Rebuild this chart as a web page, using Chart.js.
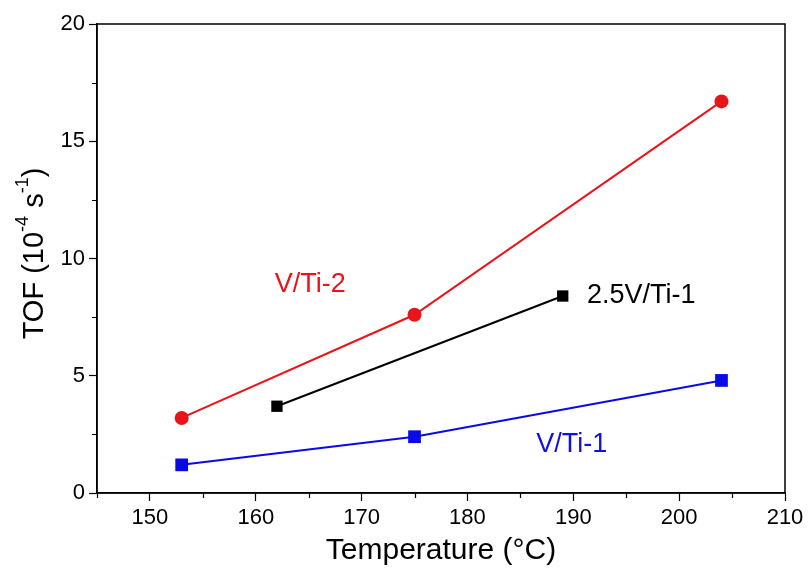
<!DOCTYPE html>
<html>
<head>
<meta charset="utf-8">
<script src="https://cdn.jsdelivr.net/npm/chart.js@4"></script>
<style>
  html, body { margin: 0; padding: 0; background: #ffffff; }
  #wrap { width: 810px; height: 573px; }
</style>
</head>
<body>
<div id="wrap"><canvas id="c" width="810" height="573"></canvas></div>
<script>
// Turnover frequency vs. reaction temperature
const tempVTi2 = [153, 175, 204];
const tofVTi2 = [3.2, 7.6, 16.7];
const temp25VTi1 = [162, 189];
const tof25VTi1 = [3.7, 8.4];
const tempVTi1 = [153, 175, 204];
const tofVTi1 = [1.2, 2.4, 4.8];

const xTicks = [150, 160, 170, 180, 190, 200, 210];
const xMinorTicks = [145, 155, 165, 175, 185, 195, 205];
const yTicks = [0, 5, 10, 15, 20];
const yMinorTicks = [2.5, 7.5, 12.5, 17.5];

// Series names written beside the curves (anchor in data units)
const seriesNames = ['V/Ti-2', '2.5V/Ti-1', 'V/Ti-1'];
const nameAnchorX = [161.8, 191.3, 186.5];
const nameAnchorY = [8.87, 8.40, 2.05];
const nameColors = ['#e8141a', '#000000', '#1010e0'];

const RED = '#e8141a';
const BLUE = '#0a0ae6';
const SANS = '"Liberation Sans", Arial, sans-serif';

const toPts = (xs, ys) => xs.map((x, i) => ({ x: x, y: ys[i] }));

const decor = {
  id: 'decor',
  afterDraw(chart) {
    const ctx = chart.ctx;
    const a = chart.chartArea;
    const xs = chart.scales.x, ys = chart.scales.y;
    ctx.save();
    // frame
    ctx.strokeStyle = '#000';
    ctx.lineWidth = 1.5;
    ctx.strokeRect(a.left, a.top, a.right - a.left, a.bottom - a.top);
    // minor ticks
    ctx.lineWidth = 1.2;
    ctx.beginPath();
    xMinorTicks.forEach(v => {
      const px = Math.round(xs.getPixelForValue(v)) + 0.5;
      ctx.moveTo(px, a.bottom);
      ctx.lineTo(px, a.bottom + 5);
    });
    yMinorTicks.forEach(v => {
      const py = Math.round(ys.getPixelForValue(v)) + 0.5;
      ctx.moveTo(a.left, py);
      ctx.lineTo(a.left - 5, py);
    });
    ctx.stroke();
    // series names
    ctx.font = '27px ' + SANS;
    ctx.textBaseline = 'middle';
    ctx.textAlign = 'left';
    seriesNames.forEach((s, i) => {
      ctx.fillStyle = nameColors[i];
      ctx.fillText(s, xs.getPixelForValue(nameAnchorX[i]), ys.getPixelForValue(nameAnchorY[i]));
    });
    // y title with superscripts
    const cy = (a.top + a.bottom) / 2 - 5;
    ctx.translate(35, cy);
    ctx.rotate(-Math.PI / 2);
    const big = '29px ' + SANS, sup = '18px ' + SANS;
    const parts = [
      ['TOF (10', big, 0], ['-4', sup, -12], [' s', big, 0], ['-1', sup, -12], [')', big, 0]
    ];
    let w = 0;
    parts.forEach(p => { ctx.font = p[1]; w += ctx.measureText(p[0]).width; });
    let x = -w / 2;
    ctx.fillStyle = '#000';
    ctx.textAlign = 'left';
    ctx.textBaseline = 'middle';
    parts.forEach(p => {
      ctx.font = p[1];
      ctx.fillText(p[0], x, p[2]);
      x += ctx.measureText(p[0]).width;
    });
    ctx.restore();
  }
};

new Chart(document.getElementById('c'), {
  type: 'scatter',
  data: {
    datasets: [
      {
        label: 'V/Ti-2',
        data: toPts(tempVTi2, tofVTi2),
        showLine: true,
        borderColor: RED, backgroundColor: RED,
        borderWidth: 2, pointStyle: 'circle', pointRadius: 7,
        pointBorderWidth: 0
      },
      {
        label: '2.5V/Ti-1',
        data: toPts(temp25VTi1, tof25VTi1),
        showLine: true,
        borderColor: '#000', backgroundColor: '#000',
        borderWidth: 2, pointStyle: 'rect', pointRadius: 8,
        pointBorderWidth: 0
      },
      {
        label: 'V/Ti-1',
        data: toPts(tempVTi1, tofVTi1),
        showLine: true,
        borderColor: BLUE, backgroundColor: BLUE,
        borderWidth: 2, pointStyle: 'rect', pointRadius: 9,
        pointBorderWidth: 0
      }
    ]
  },
  options: {
    responsive: false,
    animation: false,
    layout: { padding: { left: 0, right: 25, top: 24, bottom: 0 } },
    plugins: { legend: { display: false }, tooltip: { enabled: false } },
    scales: {
      x: {
        type: 'linear', min: 145, max: 210,
        afterBuildTicks: s => { s.ticks = xTicks.map(v => ({ value: v })); },
        afterFit: s => { s.height = 80; },
        grid: { drawOnChartArea: false, drawTicks: true, tickLength: 8, tickColor: '#000', tickWidth: 1.2 },
        border: { color: '#000', width: 1.5 },
        ticks: { color: '#000', font: { family: SANS, size: 22 }, padding: 4, maxRotation: 0 },
        title: { display: true, text: 'Temperature (\u00B0C)', color: '#000', font: { family: SANS, size: 30 }, padding: { top: 4 } }
      },
      y: {
        type: 'linear', min: 0, max: 20,
        afterBuildTicks: s => { s.ticks = yTicks.map(v => ({ value: v })); },
        afterFit: s => { s.width = 97; },
        grid: { drawOnChartArea: false, drawTicks: true, tickLength: 8, tickColor: '#000', tickWidth: 1.2 },
        border: { color: '#000', width: 1.5 },
        ticks: { color: '#000', font: { family: SANS, size: 22 }, padding: 4 }
      }
    }
  },
  plugins: [decor]
});
</script>
</body>
</html>
